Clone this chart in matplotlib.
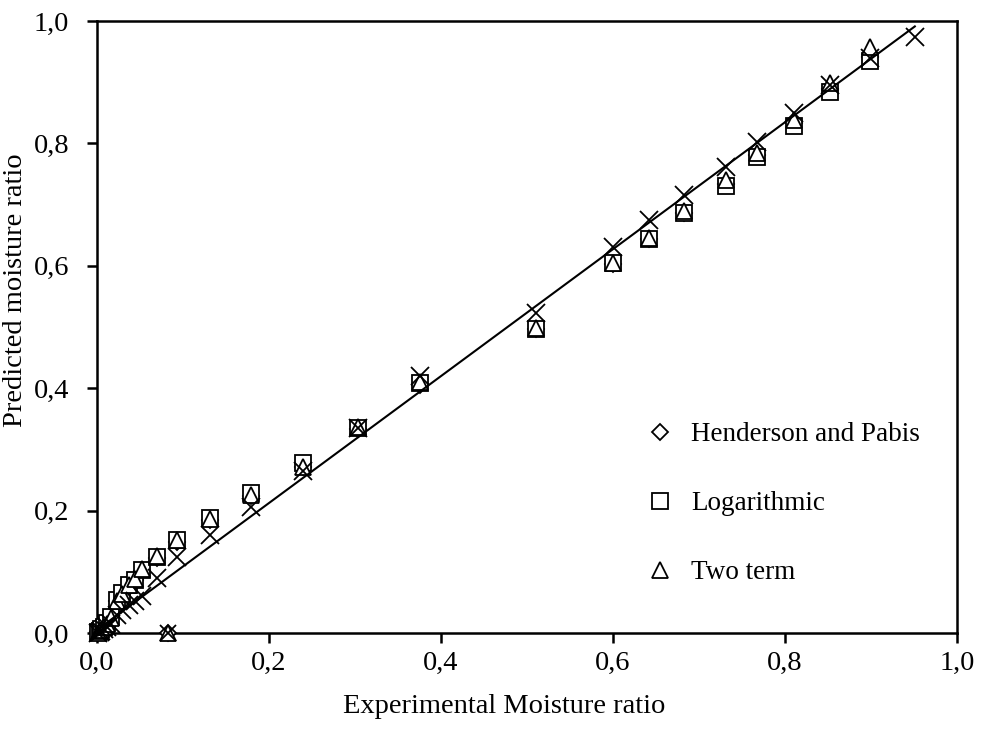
import matplotlib
matplotlib.use("Agg")
import matplotlib.pyplot as plt
from matplotlib.ticker import FixedLocator, FuncFormatter
import numpy as np

plt.rcParams['font.family'] = ['Liberation Serif', 'DejaVu Serif']

# Experimental moisture ratio (shared by the three fitted models)
mr_exp = [0.001, 0.003, 0.005, 0.008, 0.012, 0.016, 0.023, 0.029, 0.037, 0.044,
          0.052, 0.070, 0.093, 0.131, 0.179, 0.240, 0.304, 0.376, 0.510, 0.600,
          0.642, 0.682, 0.731, 0.767, 0.810, 0.852, 0.899]

# Predicted moisture ratio for each model
mr_henderson = [0.001, 0.003, 0.006, 0.010, 0.016, 0.025, 0.052, 0.063, 0.076, 0.086,
                0.101, 0.122, 0.149, 0.185, 0.224, 0.272, 0.333, 0.405, 0.496, 0.603,
                0.643, 0.686, 0.734, 0.781, 0.833, 0.889, 0.942]
mr_logarithmic = [0.002, 0.004, 0.006, 0.010, 0.016, 0.026, 0.054, 0.065, 0.078, 0.087,
                  0.103, 0.124, 0.152, 0.188, 0.229, 0.278, 0.335, 0.408, 0.497, 0.604,
                  0.644, 0.686, 0.730, 0.778, 0.829, 0.884, 0.935]
mr_two_term = [0.000, 0.003, 0.005, 0.009, 0.015, 0.025, 0.053, 0.064, 0.078, 0.088,
               0.104, 0.126, 0.152, 0.187, 0.226, 0.272, 0.336, 0.410, 0.499, 0.604,
               0.646, 0.690, 0.740, 0.785, 0.838, 0.898, 0.958]

# Extra point lying on the x axis
mr_exp_zero = [0.082]
mr_pred_zero = [0.0]

# Additional model shown with crosses (not in the legend)
mr_exp_cross = [0.001, 0.003, 0.005, 0.008, 0.012, 0.016, 0.023, 0.029, 0.037, 0.044,
                0.052, 0.070, 0.093, 0.131, 0.179, 0.240, 0.304, 0.376, 0.510, 0.600,
                0.642, 0.682, 0.731, 0.767, 0.810, 0.852, 0.899, 0.951]
mr_cross = [0.000, 0.002, 0.004, 0.007, 0.010, 0.015, 0.030, 0.038, 0.046, 0.053,
            0.060, 0.090, 0.124, 0.160, 0.206, 0.265, 0.335, 0.420, 0.523, 0.631,
            0.675, 0.716, 0.761, 0.802, 0.850, 0.895, 0.940, 0.974]

# Linear trend of the crosses
fit_slope = 1.037
fit_intercept = 0.005

axis_ticks = [0.0, 0.2, 0.4, 0.6, 0.8, 1.0]

fig = plt.figure(figsize=(9.81, 7.38), dpi=100)
ax = fig.add_axes([0.0989, 0.1423, 0.8766, 0.8292])

mk = dict(linestyle='none', markerfacecolor='white', markeredgecolor='black',
          markeredgewidth=1.3, clip_on=False)

ax.plot(mr_exp, mr_henderson, marker='D', markersize=8.2, label='Henderson and Pabis',
        zorder=3, **mk)
ax.plot(mr_exp_zero, mr_pred_zero, marker='D', markersize=8.2, zorder=3, **mk)
ax.plot(mr_exp, mr_logarithmic, marker='s', markersize=11.8, label='Logarithmic',
        zorder=3.1, **mk)
ax.plot(mr_exp, mr_two_term, marker='^', markersize=11, label='Two term', zorder=3.2, **mk)
ax.plot(mr_exp_zero, mr_pred_zero, marker='^', markersize=11, zorder=3.2, **mk)
ax.plot(mr_exp_cross, mr_cross, marker='x', markersize=12.5, zorder=3.3, **mk)
ax.plot(mr_exp_zero, mr_pred_zero, marker='x', markersize=12, zorder=3.3, **mk)

xl = np.array([0.0, max(mr_exp_cross)])
ax.plot(xl, fit_slope * xl + fit_intercept, color='black', linewidth=1.5, zorder=4)

ax.set_xlim(0, 1)
ax.set_ylim(0, 1)
comma = FuncFormatter(lambda v, p: f"{v:.1f}".replace('.', ','))
for a in (ax.xaxis, ax.yaxis):
    a.set_major_locator(FixedLocator(axis_ticks))
    a.set_major_formatter(comma)
ax.tick_params(direction='out', length=7, width=1.8, labelsize=20.5)
ax.tick_params(axis='x', pad=6)
ax.tick_params(axis='y', pad=13)
for sp in ax.spines.values():
    sp.set_linewidth(1.8)
    sp.set_zorder(2.5)

ax.set_xlabel('Experimental Moisture ratio', fontsize=20.5)
ax.set_ylabel('Predicted moisture ratio', fontsize=20.5)
ax.xaxis.set_label_coords(0.474, -0.10)
ax.yaxis.set_label_coords(-0.080, 0.56)

leg = ax.legend(loc='upper left', bbox_to_anchor=(0.64, 0.344), frameon=False,
                fontsize=19.5, labelspacing=1.62, handlelength=0.9, handletextpad=0.72,
                borderaxespad=0, borderpad=0)

fig.savefig('out.png', dpi=100)
